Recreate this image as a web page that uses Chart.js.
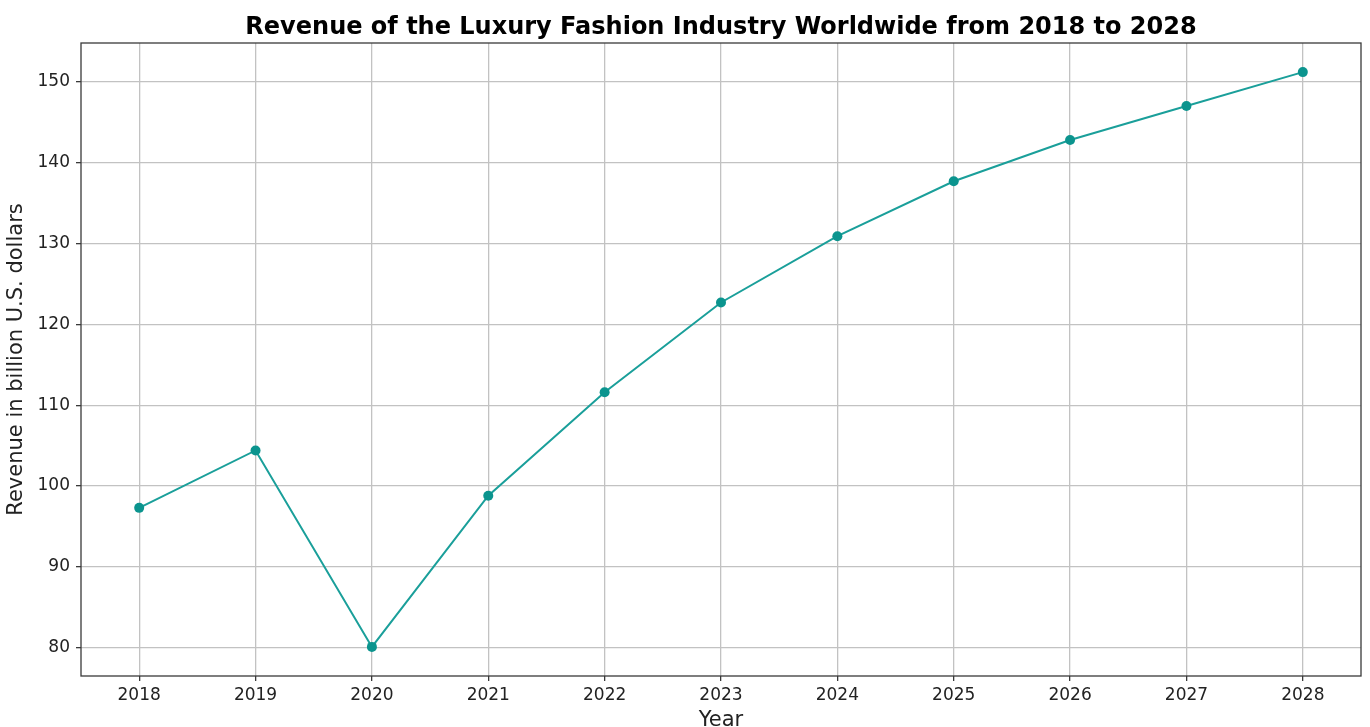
<!DOCTYPE html>
<html>
<head>
<meta charset="utf-8">
<script src="https://cdn.jsdelivr.net/npm/chart.js@4/dist/chart.umd.min.js"></script>
<style>
  html, body { margin: 0; padding: 0; background: #ffffff; }
  #wrap { width: 1370px; height: 727px; position: relative; }
</style>
</head>
<body>
<div id="wrap"><canvas id="chart" width="1370" height="727"></canvas></div>
<script>
// Revenue of the luxury fashion industry worldwide (billion U.S. dollars)
const years = [2018, 2019, 2020, 2021, 2022, 2023, 2024, 2025, 2026, 2027, 2028];
const revenue = [97.3, 104.4, 80.1, 98.8, 111.6, 122.7, 130.9, 137.7, 142.8, 147.0, 151.2];
const yTicks = [80, 90, 100, 110, 120, 130, 140, 150];

const chartTitle = 'Revenue of the Luxury Fashion Industry Worldwide from 2018 to 2028';
const xTitle = 'Year';
const yTitle = 'Revenue in billion U.S. dollars';

const FONT = "'DejaVu Sans', sans-serif";

// Title above the plot and a full frame around the plot area
const framePlugin = {
  id: 'frame',
  afterDraw(chart) {
    const { ctx, chartArea: a } = chart;
    ctx.save();
    ctx.strokeStyle = '#3a3a3a';
    ctx.lineWidth = 1.3;
    ctx.strokeRect(a.left, a.top, a.right - a.left, a.bottom - a.top);
    ctx.fillStyle = '#000000';
    ctx.font = 'bold 24px ' + FONT;
    ctx.textAlign = 'center';
    ctx.textBaseline = 'alphabetic';
    ctx.fillText(chartTitle, (a.left + a.right) / 2, 34);
    ctx.restore();
  }
};

new Chart(document.getElementById('chart'), {
  type: 'line',
  data: {
    datasets: [{
      data: years.map((y, i) => ({ x: y, y: revenue[i] })),
      borderColor: '#1a9f9a',
      backgroundColor: '#0b948e',
      pointBackgroundColor: '#0b948e',
      pointBorderColor: '#0b948e',
      borderWidth: 2,
      pointRadius: 5,
      pointBorderWidth: 0,
      tension: 0,
      fill: false
    }]
  },
  options: {
    responsive: false,
    animation: false,
    events: [],
    layout: { padding: { left: 0, right: 9, top: 43, bottom: 0 } },
    plugins: {
      legend: { display: false },
      title: { display: false },
      tooltip: { enabled: false }
    },
    scales: {
      x: {
        type: 'linear',
        min: 2017.5,
        max: 2028.5,
        afterBuildTicks(scale) { scale.ticks = years.map(v => ({ value: v })); },
        afterFit(scale) { scale.height = 51; },
        ticks: {
          autoSkip: false,
          maxRotation: 0,
          padding: 4,
          color: '#222222',
          font: { family: FONT, size: 17 },
          callback: v => String(v)
        },
        grid: { color: '#c2c2c2', lineWidth: 1.3, tickLength: 5, tickColor: '#3a3a3a', tickWidth: 1.3 },
        border: { display: false },
        title: {
          display: true,
          text: xTitle,
          color: '#222222',
          font: { family: FONT, size: 21, lineHeight: 1 },
          padding: { top: 0, bottom: -4 }
        }
      },
      y: {
        type: 'linear',
        min: 76.5,
        max: 154.8,
        afterBuildTicks(scale) { scale.ticks = yTicks.map(v => ({ value: v })); },
        afterFit(scale) { scale.width = 81; },
        ticks: {
          padding: 6,
          color: '#222222',
          font: { family: FONT, size: 17 },
          callback: v => String(v)
        },
        grid: { color: '#c2c2c2', lineWidth: 1.3, tickLength: 5, tickColor: '#3a3a3a', tickWidth: 1.3 },
        border: { display: false },
        title: {
          display: true,
          text: yTitle,
          color: '#222222',
          font: { family: FONT, size: 21, lineHeight: 1.2 },
          padding: { top: 4, bottom: 0 }
        }
      }
    }
  },
  plugins: [framePlugin]
});
</script>
</body>
</html>
